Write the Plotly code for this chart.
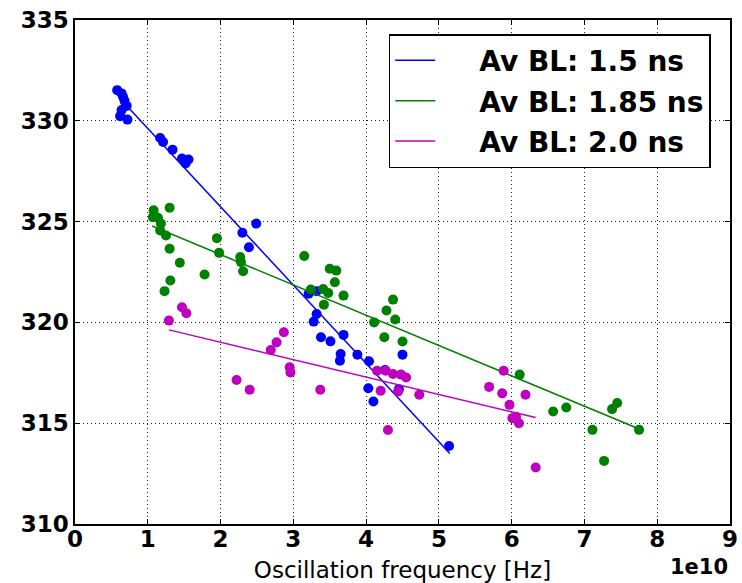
import plotly.graph_objects as go

# Oscillation frequency in units of 1e10 Hz, bunch length value in axis units
blue_x = [0.58, 0.64, 0.66, 0.68, 0.71, 0.64, 0.62, 0.72, 1.17, 1.21, 1.34, 1.47, 1.56, 1.52,
          2.49, 2.30, 2.39, 3.21, 3.32, 3.32, 3.28, 3.38, 3.51, 3.69, 3.65, 3.64, 3.88, 4.04,
          4.26, 4.50, 4.45, 4.03, 4.10, 5.14]
blue_y = [331.52, 331.36, 331.19, 330.99, 330.74, 330.53, 330.23, 330.06, 329.15, 328.95, 328.57,
          328.13, 328.08, 327.88, 324.90, 324.45, 323.73, 321.42, 321.55, 320.42, 320.04, 319.26,
          319.06, 319.38, 318.43, 318.10, 318.40, 318.07, 317.64, 318.40, 316.69, 316.73, 316.08,
          313.87]

green_x = [1.08, 1.30, 1.07, 1.14, 1.18, 1.17, 1.25, 1.30, 1.44, 1.31, 1.23, 1.78, 1.95, 1.98,
           2.27, 2.28, 2.31, 3.15, 3.24, 3.50, 3.59, 3.57, 3.41, 3.48, 3.69, 3.42, 4.37, 4.28,
           4.40, 4.11, 4.25, 4.50, 6.11, 6.57, 6.75, 7.38, 7.45, 7.75, 7.11, 7.27]
green_y = [325.56, 325.69, 325.22, 325.19, 324.90, 324.56, 324.31, 323.65, 322.96, 322.08, 321.55,
           322.38, 324.18, 323.45, 323.24, 322.99, 322.54, 323.29, 321.63, 322.66, 322.57, 321.99,
           321.66, 321.46, 321.33, 320.88, 321.13, 320.59, 320.14, 320.00, 319.26, 319.05, 317.41,
           315.58, 315.78, 315.70, 316.00, 314.67, 314.67, 313.13]

magenta_x = [1.47, 1.53, 1.29, 2.87, 2.77, 2.69, 2.95, 2.96, 2.22, 2.40, 3.37, 4.15, 4.27, 4.37,
             4.48, 4.55, 4.20, 4.44, 4.73, 4.30, 5.89, 5.69, 5.87, 6.19, 5.97, 6.01, 6.06, 6.10,
             6.33]
magenta_y = [320.75, 320.45, 320.09, 319.51, 319.01, 318.63, 317.77, 317.52, 317.14, 316.66, 316.66,
             317.60, 317.60, 317.44, 317.41, 317.27, 316.61, 316.58, 316.41, 314.66, 317.60, 316.80,
             316.48, 316.41, 315.91, 315.25, 315.32, 315.00, 312.80]

# Linear fit lines (end points)
blue_fit_x = [0.71, 5.15]
blue_fit_y = [330.75, 313.5]
green_fit_x = [1.06, 7.72]
green_fit_y = [324.78, 314.76]
magenta_fit_x = [1.29, 6.33]
magenta_fit_y = [319.63, 315.28]

labels = ["Av BL: 1.5 ns", "Av BL: 1.85 ns", "Av BL: 2.0 ns"]
colors = ["#0000ff", "#008000", "#bf00bf"]

x_ticks = [0, 1, 2, 3, 4, 5, 6, 7, 8, 9]
y_ticks = [310, 315, 320, 325, 330, 335]

series = [
    (blue_x, blue_y, blue_fit_x, blue_fit_y),
    (green_x, green_y, green_fit_x, green_fit_y),
    (magenta_x, magenta_y, magenta_fit_x, magenta_fit_y),
]

NBSP = "\u00a0"

fig = go.Figure()
for i, (sx, sy, fx, fy) in enumerate(series):
    fig.add_trace(go.Scatter(x=sx, y=sy, mode="markers",
                             marker=dict(color=colors[i], size=10, line=dict(width=0)),
                             showlegend=False, legendgroup=f"g{i}"))
    fig.add_trace(go.Scatter(x=fx, y=fy, mode="lines", name=NBSP * 4 + labels[i],
                             line=dict(color=colors[i], width=1.5),
                             legendgroup=f"g{i}"))

tickfont = dict(family="DejaVu Sans", size=23, color="black", weight="bold")

fig.update_layout(
    width=742, height=583,
    margin=dict(l=75, r=12, t=20, b=59),
    plot_bgcolor="white", paper_bgcolor="white",
    font=dict(family="DejaVu Sans", color="black"),
    legend=dict(
        x=0.479, y=0.972, xanchor="left", yanchor="top",
        bgcolor="white", bordercolor="black", borderwidth=1.5,
        font=dict(family="DejaVu Sans", size=28, color="black", weight="bold"),
        traceorder="grouped", tracegroupgap=1,
        itemwidth=40,
    ),
    xaxis=dict(
        range=[0, 9], tickvals=x_ticks, ticktext=[str(t) for t in x_ticks],
        showgrid=True, gridcolor="#222", gridwidth=1, griddash="1px,3px",
        showline=True, linecolor="black", linewidth=1.5, mirror="ticks",
        ticks="inside", ticklen=5, tickcolor="black",
        tickfont=tickfont, zeroline=False, automargin=False,
        ticklabelstandoff=-6,
        title=dict(text="Oscillation frequency [Hz]",
                   font=dict(family="DejaVu Sans", size=23, color="black"), standoff=12),
    ),
    yaxis=dict(
        range=[310, 335], tickvals=y_ticks,
        showgrid=True, gridcolor="#222", gridwidth=1, griddash="1px,3px",
        showline=True, linecolor="black", linewidth=1.5, mirror="ticks",
        ticks="inside", ticklen=5, tickcolor="black",
        tickfont=tickfont, zeroline=False, automargin=False,
    ),
    annotations=[dict(text="1e10", xref="paper", yref="paper", x=1.0, y=-0.085,
                      xanchor="right", yanchor="middle", showarrow=False,
                      font=dict(family="DejaVu Sans", size=21, color="black", weight="bold"))],
)

fig.write_html("out.html")
